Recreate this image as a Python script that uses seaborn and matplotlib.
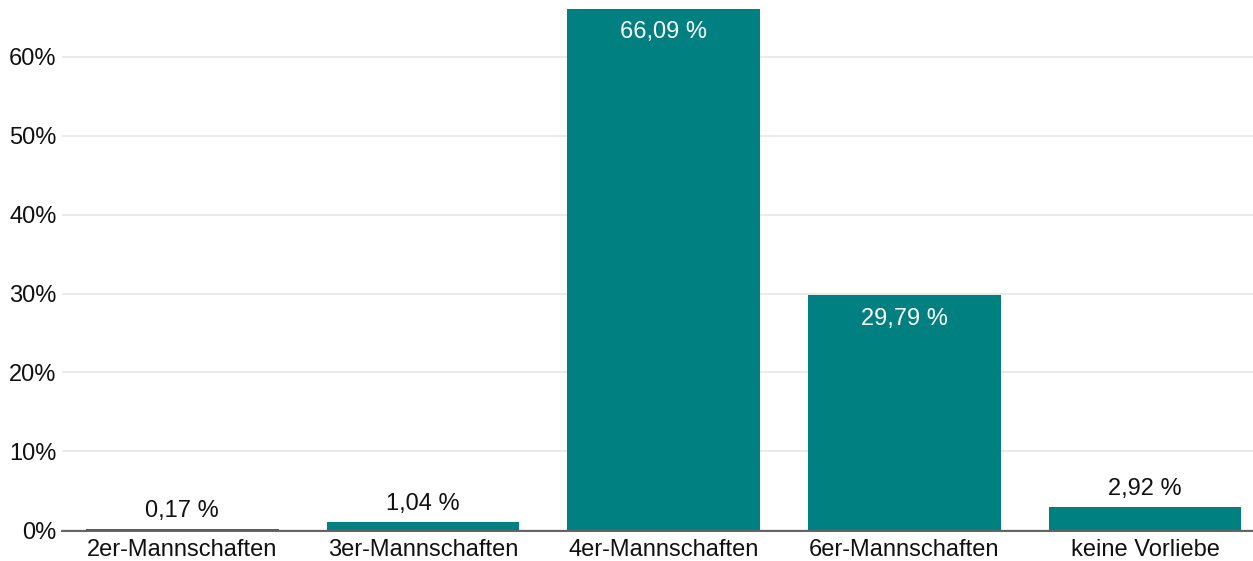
import matplotlib
matplotlib.use("Agg")
import matplotlib.pyplot as plt
import seaborn as sns
import pandas as pd

categories = ["2er-Mannschaften", "3er-Mannschaften", "4er-Mannschaften", "6er-Mannschaften", "keine Vorliebe"]
values = [0.17, 1.04, 66.09, 29.79, 2.92]
yticks = [0, 10, 20, 30, 40, 50, 60]

sns.set_theme(style="white")
plt.rcParams['font.family'] = ['Liberation Sans', 'DejaVu Sans']

df = pd.DataFrame({"cat": categories, "val": values})

fig = plt.figure(figsize=(12.53, 5.61), dpi=100)
ax = fig.add_axes([62/1253, 30/561, 1 - 62/1253, 1 - 30/561])
sns.barplot(data=df, x="cat", y="val", color="#008080", saturation=1, width=0.8,
            linewidth=0, ax=ax)

ax.set_ylim(-0.1, 67.2)
ax.set_xlim(-0.5, 4.448)
ax.set_yticks(yticks)
ax.set_yticklabels([f"{t}%" for t in yticks], fontsize=17, color="#111111")
ax.tick_params(axis="x", labelsize=17, colors="#111111", length=0, pad=6)
ax.tick_params(axis="y", length=0, pad=4)
ax.set_xlabel("")
ax.set_ylabel("")
ax.grid(axis="y", color="#e6e6e6", linewidth=1.2)
ax.set_axisbelow(True)
for s in ["top", "right", "left"]:
    ax.spines[s].set_visible(False)
ax.spines["bottom"].set_position(("data", -0.1))
ax.spines["bottom"].set_color("#555555")
ax.spines["bottom"].set_linewidth(1.3)

for i, v in enumerate(values):
    lab = f"{v:.2f}".replace(".", ",") + " %"
    if v > 20:
        ax.annotate(lab, (i, v), xytext=(0, -9), textcoords="offset points",
                    ha="center", va="top", fontsize=17, color="white")
    else:
        ax.annotate(lab, (i, v), xytext=(0, 5), textcoords="offset points",
                    ha="center", va="bottom", fontsize=17, color="#111111")

fig.savefig("out.png", dpi=100)
